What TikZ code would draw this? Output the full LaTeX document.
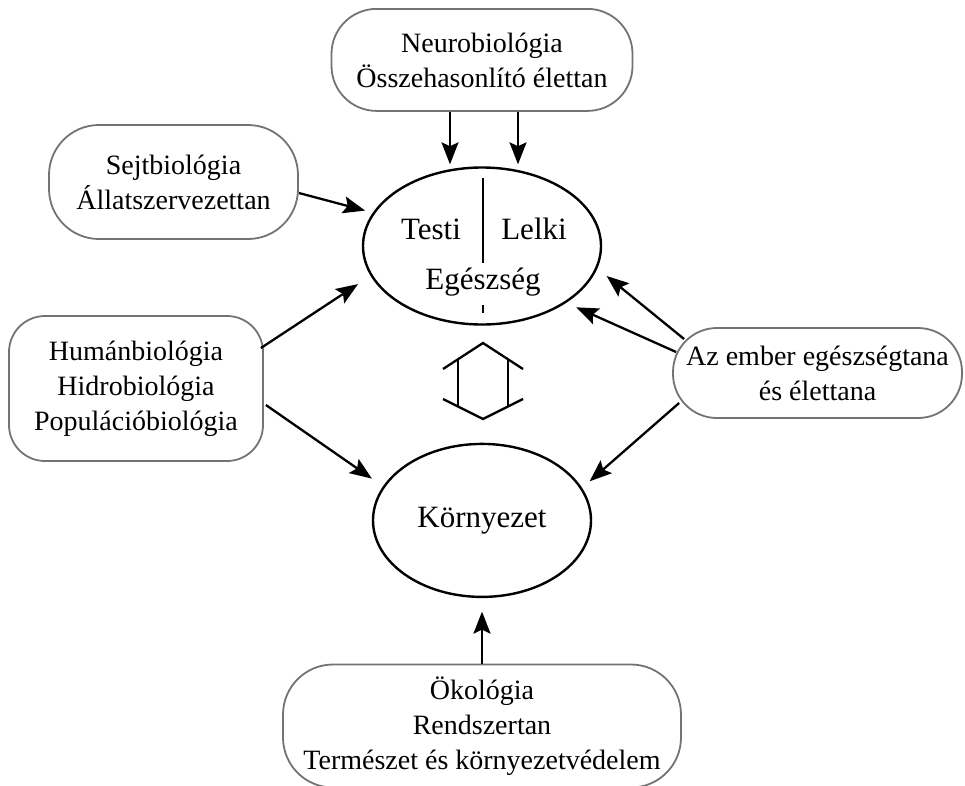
\documentclass[tikz,border=0pt]{standalone}
\usepackage{fontspec}
\setmainfont{Liberation Serif}
\usetikzlibrary{arrows.meta,positioning,shapes.geometric}

\tikzset{
  field/.style={draw=black!55,line width=1.8pt,rounded corners=45pt,align=center,
    inner sep=0pt,font=\fontsize{28}{35}\selectfont},
  ell/.style={ellipse,draw,line width=2.4pt,inner sep=0pt,font=\fontsize{31}{37}\selectfont},
  lbl/.style={inner sep=0pt,anchor=base,font=\fontsize{31}{37}\selectfont}
}

\begin{document}
\begin{tikzpicture}[x=1pt,y=1pt,>={Stealth[length=22pt,width=17pt,inset=4pt]},line width=2.3pt]
\useasboundingbox (0,0) rectangle (965,-785);

            % centre: health and environment
            \node[ell,minimum width=238pt,minimum height=157pt] (egesz) at (482,-246) {};
            \node[ell,minimum width=218pt,minimum height=153pt] (korny) [below=117pt of egesz] {Környezet};

            \node[lbl] (testi) at ([shift={(-51pt,7pt)}]egesz.center) {Testi};
            \node[lbl] (lelki) at ([shift={(52pt,7pt)}]egesz.center) {Lelki};
            \node[lbl] (eg) at ([shift={(1pt,-43pt)}]egesz.center) {Egészség};
            \draw ([shift={(1pt,68pt)}]egesz.center) -- ([shift={(1pt,-17pt)}]egesz.center);
            \draw ([shift={(1pt,-59pt)}]egesz.center) -- ([shift={(1pt,-67pt)}]egesz.center);

            % surrounding fields
            \node[field,minimum width=301pt,minimum height=102pt] (neuro) [above=54.5pt of egesz] {Neurobiológia\\Összehasonlító élettan};
            \node[field,minimum width=249pt,minimum height=114pt,rounded corners=50pt] (sejt) at (173.5,-182) {Sejtbiológia\\Állatszervezettan};
            \node[field,minimum width=254pt,minimum height=145pt,rounded corners=36pt] (human) at (136,-388.5) {Humánbiológia\\Hidrobiológia\\Populációbiológia};
            \node[field,minimum width=289pt,minimum height=90pt,rounded corners=44pt] (ember) at (817.5,-373) {Az ember egészségtana\\és élettana};
            \node[field,minimum width=398pt,minimum height=123pt,rounded corners=50pt] (okol) [below=65.5pt of korny] {Ökológia\\Rendszertan\\Természet és környezetvédelem};

            % hollow double arrow
            \coordinate (mid) at (483,-381);
            \draw (mid) ++(-40,12) -- ++(40,26) -- ++(40,-26);
            \draw (mid) ++(-40,-18) -- ++(40,-20) -- ++(40,20);
            \draw (mid) ++(-25,22) -- ++(0,-47.5);
            \draw (mid) ++(25,22) -- ++(0,-47.5);

            \path[->] ([xshift=-32pt]neuro.south) edge [shorten >=2pt] ([xshift=-32pt]neuro.south |- egesz.north)
                      ([xshift=36pt]neuro.south) edge [shorten >=2pt] ([xshift=36pt]neuro.south |- egesz.north)
                      ([yshift=-11pt]sejt.east) edge [shorten >=8pt] (egesz.163.8)
                      ([shift={(-3pt,40.5pt)}]human.east) edge [shorten >=15pt] (egesz.195.8)
                      ([shift={(2pt,-16.5pt)}]human.east) edge [shorten >=13.5pt] (korny.161.9)
                      ([shift={(12pt,34pt)}]ember.west) edge [shorten >=12pt] (egesz.-11.7)
                      ([shift={(4pt,21pt)}]ember.west) edge [shorten >=11pt] (egesz.-34.3)
                      ([shift={(7pt,-30pt)}]ember.west) edge [shorten >=10pt] (korny.18.9)
                      (okol.north) edge [shorten >=13.5pt] (okol.north |- korny.south);

        \end{tikzpicture}
\end{document}
